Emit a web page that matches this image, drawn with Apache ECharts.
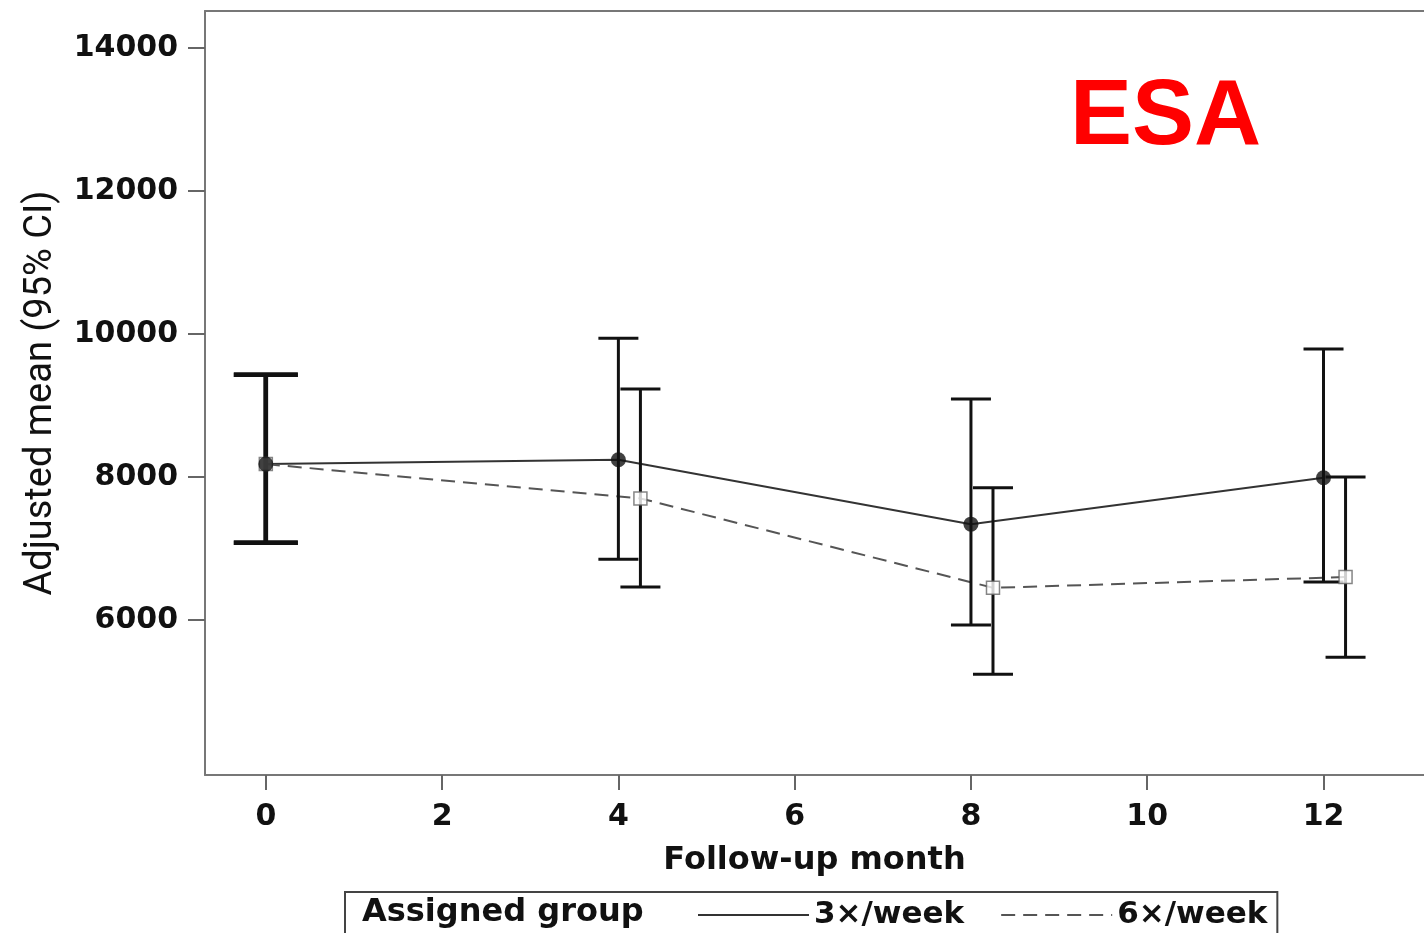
<!DOCTYPE html>
<html>
<head>
<meta charset="utf-8">
<title>ESA adjusted mean</title>
<script src="https://cdn.jsdelivr.net/npm/echarts@6/dist/echarts.min.js"></script>
<style>
  html, body { margin: 0; padding: 0; background: #fff; }
  #esa { width: 1424px; height: 933px; }
</style>
</head>
<body>
<div id="esa"></div>
<script>
// follow-up months and tick values
var months = [0, 4, 8, 12];
var xTicks = [0, 2, 4, 6, 8, 10, 12];
var yTicks = [6000, 8000, 10000, 12000, 14000];

// 3x/week group: adjusted mean and 95% CI
var mean3 = [8180, 8240, 7340, 7990];
var low3 = [7080, 6850, 5930, 6530];
var high3 = [9430, 9940, 9090, 9790];

// 6x/week group: adjusted mean and 95% CI
var mean6 = [8180, 7700, 6450, 6600];
var low6 = [7080, 6460, 5240, 5480];
var high6 = [9430, 9230, 7850, 8000];

// the 6x/week points are nudged right so the bars don't overlap (not at baseline)
var dodge = 0.25;
var x6 = months.map(function (m, i) { return i === 0 ? m : m + dodge; });

var tickFont = '"DejaVu Sans", sans-serif';

function pairs(xs, ys) {
    return xs.map(function (x, i) { return [x, ys[i]]; });
}

function bars(xs, lo, hi) {
    return xs.map(function (x, i) { return [x, lo[i], hi[i]]; });
}

function errorBar(params, api) {
    var x = api.value(0);
    var lo = api.coord([x, api.value(1)]);
    var hi = api.coord([x, api.value(2)]);
    var bold = params.dataIndex === 0;
    var half = bold ? 32 : 20;
    var style = { stroke: '#111', lineWidth: bold ? 4.5 : 3 };
    return {
        type: 'group',
        children: [
            { type: 'line', shape: { x1: hi[0], y1: hi[1], x2: lo[0], y2: lo[1] }, style: style },
            { type: 'line', shape: { x1: hi[0] - half, y1: hi[1], x2: hi[0] + half, y2: hi[1] }, style: style },
            { type: 'line', shape: { x1: lo[0] - half, y1: lo[1], x2: lo[0] + half, y2: lo[1] }, style: style }
        ]
    };
}

var esa = echarts.init(document.getElementById('esa'), null, { renderer: 'canvas' });

var esa_option = {
    backgroundColor: '#fff',
    animation: false,
    grid: {
        left: 205,
        top: 11,
        right: -5,
        bottom: 158
    },
    graphic: [
        {
            type: 'text',
            left: 1070,
            top: 72,
            z: 10,
            style: {
                text: 'ESA',
                font: 'bold 93px "Liberation Sans", Arial, sans-serif',
                fill: '#f00'
            }
        },
        {
            type: 'text',
            left: 362,
            top: 897,
            z: 10,
            style: {
                text: 'Assigned group',
                font: 'bold 32px ' + tickFont,
                fill: '#111'
            }
        }
    ],
    legend: {
        left: 345,
        top: 892,
        orient: 'horizontal',
        data: ['3×/week', '6×/week'],
        padding: [6, 10, 14, 352],
        itemGap: 36,
        itemWidth: 111,
        itemHeight: 20,
        borderColor: '#444',
        borderWidth: 2,
        backgroundColor: '#fff',
        itemStyle: { opacity: 0 },
        textStyle: {
            fontFamily: tickFont,
            fontWeight: 'bold',
            fontSize: 31,
            color: '#111',
            lineHeight: 34
        }
    },
    xAxis: [
        {
            type: 'value',
            min: -0.69,
            max: 13.14,
            name: 'Follow-up month',
            nameLocation: 'middle',
            nameGap: 70,
            nameTextStyle: {
                fontFamily: tickFont,
                fontWeight: 'bold',
                fontSize: 32,
                color: '#111'
            },
            axisLine: { show: true, onZero: false, lineStyle: { color: '#777', width: 2 } },
            axisTick: {
                show: true,
                length: 15,
                customValues: xTicks,
                lineStyle: { color: '#666', width: 2 }
            },
            axisLabel: {
                customValues: xTicks,
                margin: 27,
                fontFamily: tickFont,
                fontWeight: 'bold',
                fontSize: 30,
                color: '#111'
            },
            splitLine: { show: false }
        },
        {
            // top edge of the frame
            type: 'value',
            position: 'top',
            min: -0.69,
            max: 13.14,
            axisLine: { show: true, onZero: false, lineStyle: { color: '#777', width: 2 } },
            axisTick: { show: false },
            axisLabel: { show: false },
            splitLine: { show: false }
        }
    ],
    yAxis: {
        type: 'value',
        min: 3832,
        max: 14517,
        name: 'Adjusted mean (95% CI)',
        nameLocation: 'middle',
        nameGap: 145,
        nameTextStyle: {
            fontFamily: 'Roboto, sans-serif',
            fontSize: 38,
            color: '#111'
        },
        axisLine: { show: true, onZero: false, lineStyle: { color: '#777', width: 2 } },
        axisTick: {
            show: true,
            length: 17,
            customValues: yTicks,
            lineStyle: { color: '#666', width: 2 }
        },
        axisLabel: {
            customValues: yTicks,
            margin: 27,
            formatter: function (v) { return String(v); },
            fontFamily: tickFont,
            fontWeight: 'bold',
            fontSize: 30,
            color: '#111'
        },
        splitLine: { show: false }
    },
    series: [
        {
            name: '3×/week',
            type: 'line',
            data: pairs(months, mean3),
            symbol: 'none',
            lineStyle: { color: '#333', width: 2 },
            itemStyle: { color: '#333' },
            z: 3
        },
        {
            name: '6×/week',
            type: 'line',
            data: pairs(x6, mean6),
            symbol: 'none',
            lineStyle: { color: '#555', width: 2, type: [14, 8] },
            itemStyle: { color: '#555' },
            z: 3
        },
        {
            name: 'bars3',
            type: 'custom',
            renderItem: errorBar,
            data: bars(months, low3, high3),
            z: 4
        },
        {
            name: 'bars6',
            type: 'custom',
            renderItem: errorBar,
            data: bars(x6, low6, high6),
            z: 4
        },
        {
            name: 'points6',
            type: 'scatter',
            data: pairs(x6, mean6),
            symbol: 'rect',
            symbolSize: 13,
            itemStyle: { color: '#fff', borderColor: '#666', borderWidth: 1.5 },
            z: 5
        },
        {
            name: 'points3',
            type: 'scatter',
            data: pairs(months, mean3),
            symbol: 'circle',
            symbolSize: 15,
            itemStyle: { color: '#111' },
            z: 6
        }
    ]
};

esa.setOption(esa_option);
</script>
</body>
</html>
